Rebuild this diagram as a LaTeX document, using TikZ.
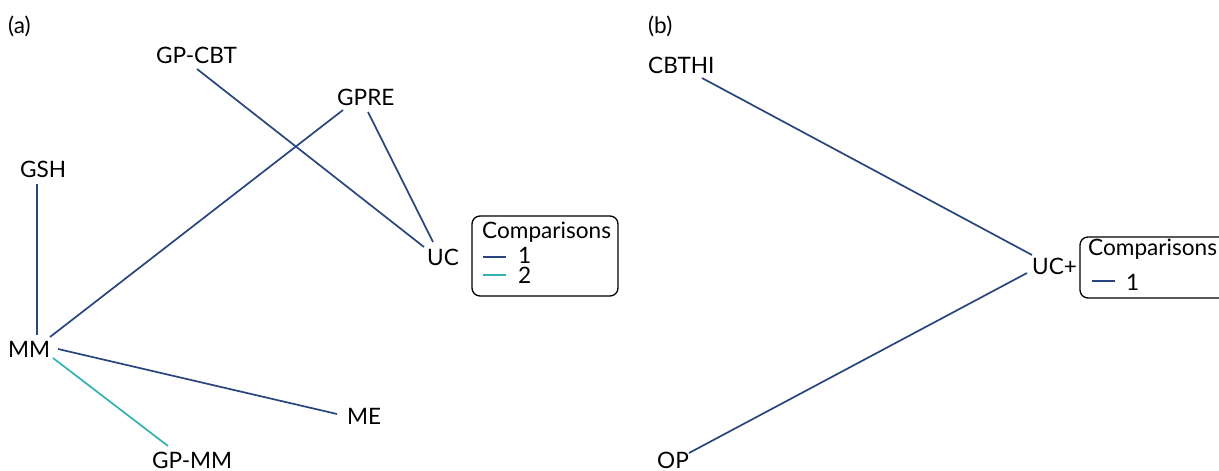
\documentclass[tikz,border=0pt]{standalone}
\usepackage{fontspec}
\setmainfont{Lato}
\usetikzlibrary{calc}
\definecolor{navy}{RGB}{40,70,125}
\definecolor{teal2}{RGB}{50,178,178}
\tikzset{
  lbl/.style={anchor=base west, inner sep=0pt, font=\fontsize{22.6}{27}\selectfont, text=black},
  edge1/.style={draw=navy, line width=1.7pt},
  edge2/.style={draw=teal2, line width=1.7pt},
  legbox/.style={draw=black, line width=1.3pt, rounded corners=8pt},
}
\begin{document}
\begin{tikzpicture}[x=1pt,y=-1pt]
\useasboundingbox[fill=white] (0,0) rectangle (1219,471);
% panel (a)
\node[lbl] (pa) at (8,33) {(a)};
\node[lbl] (gpcbt) at (156,63) {GP-CBT};
\node[lbl] (gpre) at (337,105) {GPRE};
\node[lbl] (gsh) at (20,177) {GSH};
\node[lbl] (uc) at (427,265) {UC};
\node[lbl] (mm) at (8,357) {MM};
\node[lbl] (me) at (347,424) {ME};
\node[lbl] (gpmm) at (152,468) {GP-MM};
\draw[edge1] ($(gpcbt.base west)+(41,6)$) -- ($(uc.base west)+(-3,-18)$);
\draw[edge1] ($(gpre.base west)+(31,7)$) -- ($(uc.base west)+(6,-23)$);
\draw[edge1] ($(gpre.base west)+(6,5)$) -- ($(mm.base west)+(42,-20)$);
\draw[edge1] ($(gsh.base west)+(17,7)$) -- ($(mm.base west)+(29,-22)$);
\draw[edge1] ($(mm.base west)+(50,-8)$) -- ($(me.base west)+(-10,-10)$);
\draw[edge2] ($(mm.base west)+(45,1)$) -- ($(gpmm.base west)+(16,-22)$);
% legend (a)
\draw[legbox] (472,216) rectangle (618,296);
\node[lbl] (lata) at (482,238) {Comparisons};
\node[lbl] (la1) at (518,263) {1};
\node[lbl] (la2) at (518,283) {2};
\draw[edge1] (483,257) -- (506,257);
\draw[edge2] (483,275) -- (506,275);
% panel (b)
\node[lbl] (pb) at (648,33) {(b)};
\node[lbl] (cbthi) at (648,73) {CBTHI};
\node[lbl] (ucp) at (1032,274) {UC+};
\node[lbl] (op) at (657,468) {OP};
\draw[edge1] ($(cbthi.base west)+(54,5)$) -- ($(ucp.base west)+(0,-19)$);
\draw[edge1] ($(op.base west)+(32,-15)$) -- ($(ucp.base west)+(-5,-1)$);
% legend (b)
\begin{scope}
\clip (0,0) rectangle (1219,471);
\draw[legbox] (1080,237) rectangle (1240,298);
\end{scope}
\node[lbl] (ltb) at (1088,255) {Comparisons};
\node[lbl] (lb1) at (1126,290) {1};
\draw[edge1] (1092,281) -- (1115,281);
\end{tikzpicture}
\end{document}
